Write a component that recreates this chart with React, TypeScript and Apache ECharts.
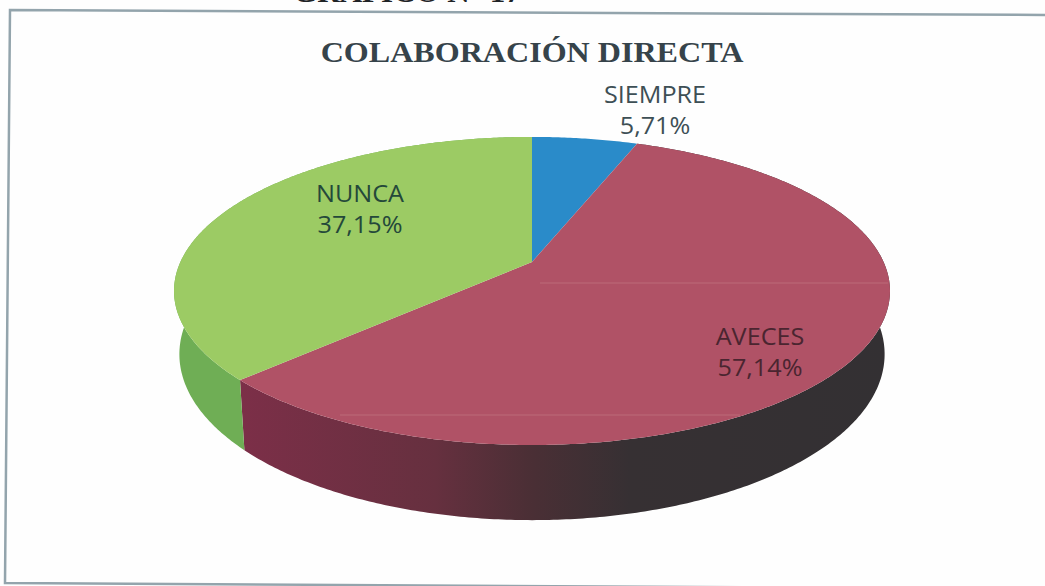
import React, { useEffect, useRef } from "react";
import * as echarts from "echarts";

const categories = ["SIEMPRE", "AVECES", "NUNCA"];
const values = [5.71, 57.14, 37.15];
const valueLabels = ["5,71%", "57,14%", "37,15%"];
const topColors = ["#2a8bc9", "#b05266", "#9ccb64"];
const titleText = "COLABORACIÓN DIRECTA";
const headingText = "GRÁFICO N° 17";

const W = 1045, H = 586;
const CX = 532, CY = 262, A = 148.6, B = 351.6, K = 0.188, DEPTH = 61, NARROW = 0.985;

function project(theta: number, lower: boolean): number[] {
  const u = Math.sin(theta), v = -Math.cos(theta);
  const w = 1 - K * v;
  const b = lower ? B * NARROW : B;
  const x = CX + (b * u) / w;
  const y = CY + (A * v + (lower ? DEPTH : 0)) / w;
  return [x, y];
}
function arc(from: number, to: number, lower: boolean): number[][] {
  const pts: number[][] = [];
  const n = Math.max(4, Math.ceil(Math.abs(to - from) / 0.01));
  for (let i = 0; i <= n; i++) pts.push(project(from + ((to - from) * i) / n, lower));
  return pts;
}
const linear = (stops: [number, string][]) => ({
  type: "linear", x: 0, y: 0, x2: 1, y2: 0, global: false,
  colorStops: stops.map(([offset, color]) => ({ offset, color })),
});

function renderSlice(params: any, api: any) {
  const i = params.dataIndex;
  const total = values.reduce((s, v) => s + v, 0);
  const before = values.slice(0, i).reduce((s, v) => s + v, 0);
  const a0 = (before / total) * Math.PI * 2;
  const a1 = ((before + api.value(0)) / total) * Math.PI * 2;
  const children: any[] = [];
  const sideFill =
    i === 1
      ? linear([[0, "#7c2f48"], [0.3, "#66303f"], [0.45, "#4a2f35"], [0.6, "#363033"], [1, "#333033"]])
      : i === 2
      ? "#6fae55"
      : "#1f6b9e";
  if (i !== 0) {
    const top = arc(a0, a1, false);
    const bot = arc(a0, a1, true).reverse();
    children.push({
      type: "polygon", z2: 1,
      shape: { points: top.concat(bot) },
      style: { fill: sideFill, stroke: "none" },
    });
  }
  children.push({
    type: "polygon", z2: 2,
    shape: { points: [[CX, CY], ...arc(a0, a1, false)] },
    style: { fill: topColors[i], stroke: "none" },
  });
  return { type: "group", children };
}

export default function App() {
  const ref = useRef<HTMLDivElement>(null);
  useEffect(() => {
    const chart = echarts.init(ref.current!, null, { renderer: "svg" });
    const labelStyle = (x: number, y: number, i: number, fill: string) => ({
      type: "text", x, y, z: 20, scaleX: 1.05,
      style: {
        text: categories[i] + "\n" + valueLabels[i],
        font: "24px 'Open Sans', sans-serif",
        fill, align: "center", verticalAlign: "middle", lineHeight: 31,
      },
    });
    chart.setOption({
      animation: false,
      backgroundColor: "#fefefe",
      xAxis: { show: false, type: "value", min: 0, max: 1 },
      yAxis: { show: false, type: "value", min: 0, max: 1 },
      grid: { left: 0, right: 0, top: 0, bottom: 0 },
      series: [
        {
          type: "custom",
          coordinateSystem: "none",
          renderItem: renderSlice,
          silent: true,
          data: values.map((v) => [v]),
          encode: { value: 0 },
        },
      ],
      graphic: [
        { type: "polyline", z: 1, shape: { points: [[1045, 15], [10, 10], [5, 583], [1045, 589]] }, style: { fill: "none", stroke: "#93a4ac", lineWidth: 2.5 } },
        { type: "text", x: 407, y: -8, z: 20, scaleX: 1.07, style: { text: headingText, font: "bold 29px 'Liberation Serif', serif", fill: "#1f2326", align: "center", verticalAlign: "middle" } },
        { type: "text", x: 532, y: 52, z: 20, scaleX: 1.07, style: { text: titleText, font: "bold 30px 'Liberation Serif', serif", fill: "#36434a", align: "center", verticalAlign: "middle" } },
        { type: "line", z: 10, shape: { x1: 540, y1: 283, x2: 888, y2: 283 }, style: { stroke: "#c47a86", lineWidth: 2, opacity: 0.3 } },
        { type: "line", z: 10, shape: { x1: 340, y1: 415, x2: 740, y2: 415 }, style: { stroke: "#c47a86", lineWidth: 2, opacity: 0.3 } },
        labelStyle(655, 109, 0, "#3d4f55"),
        labelStyle(760, 351, 1, "#4a2530"),
        labelStyle(360, 208, 2, "#24483a"),
      ],
    });
    return () => chart.dispose();
  }, []);
  return <div ref={ref} style={{ width: W, height: H, position: "absolute", left: 0, top: 0 }} />;
}
